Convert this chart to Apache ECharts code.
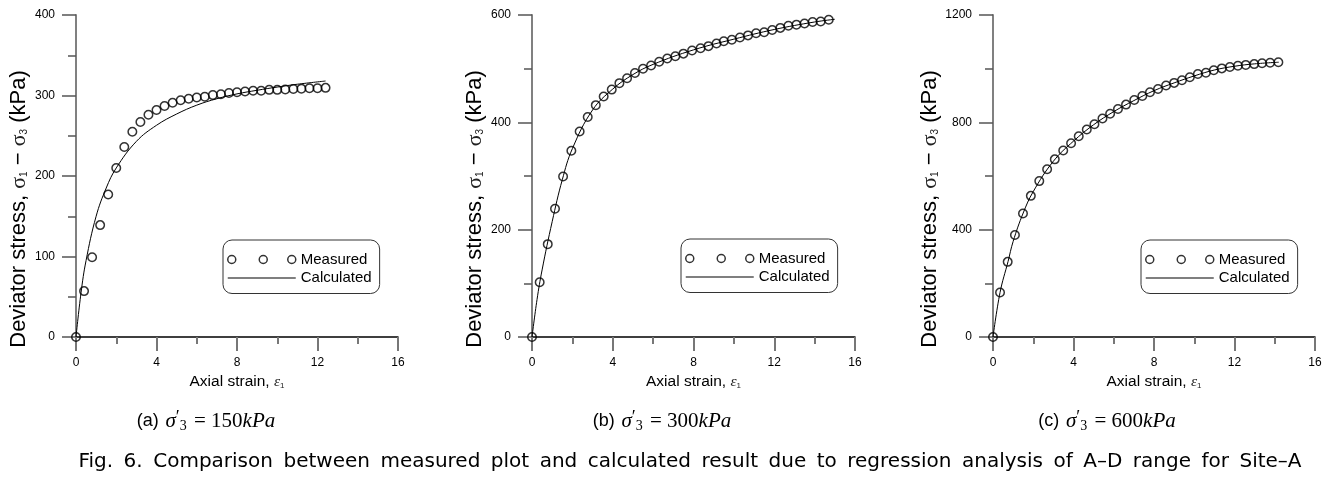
<!DOCTYPE html>
<html><head><meta charset="utf-8">
<script src="https://cdn.jsdelivr.net/npm/echarts@6/dist/echarts.min.js"></script>
<style>html,body{margin:0;padding:0;background:#fff}#c{width:1341px;height:484px}</style>
</head><body><div id="c"></div>
<script>
// ---------- data ----------
const strainA = [0,0.4,0.8,1.2,1.6,2.0,2.4,2.8,3.2,3.6,4.0,4.4,4.8,5.2,5.6,6.0,6.4,6.8,7.2,7.6,8.0,8.4,8.8,9.2,9.6,10.0,10.4,10.8,11.2,11.6,12.0,12.4];
const measuredA = [0,57,99,139,177,210,236,255,267,276,282,287,291,294,296,297.5,298.5,300.5,301.5,303,304,305,306,306,307,307,307.5,308,308.5,309,309,309.5];
const calcStrainA = [0,0.25,0.5,1,1.5,2,3,4,5,6,7,8,9,10,11,12.4];
const calculatedA = [0,55,95,150,185,210,243,263,277,288,296,302,306.5,310.5,314,318];

const strainB = [0,0.38,0.78,1.14,1.54,1.95,2.36,2.76,3.16,3.55,3.95,4.33,4.71,5.1,5.5,5.9,6.3,6.7,7.1,7.5,7.93,8.35,8.74,9.14,9.5,9.9,10.3,10.7,11.1,11.5,11.9,12.3,12.7,13.1,13.5,13.9,14.3,14.7];
const measuredB = [0,102,173,239,299,347,383,410,432,448,461,473,482,492,500,506,513,519,523,528,534,538,542,547,551,554,558,562,566,568,572,576,580,582,584,587,588,591];
const calcStrainB = [0,0.25,0.5,1,1.5,2,3,4,5,6,8,10,12,14,15];
const calculatedB = [0,70,125,215,293,351,423,462,489,508,535,555,573,587,592];

const strainC = [0,0.35,0.73,1.09,1.49,1.88,2.3,2.69,3.07,3.49,3.88,4.26,4.66,5.04,5.44,5.82,6.21,6.61,7.02,7.42,7.8,8.2,8.6,9.0,9.39,9.78,10.18,10.58,10.97,11.37,11.77,12.17,12.56,12.98,13.37,13.77,14.18];
const measuredC = [0,166,280,380,460,526,581,625,662,695,722,748,773,793,814,832,850,866,883,898,912,924,937,947,957,968,980,985,994,1001,1006,1011,1014,1017,1020,1022,1024];
const calcStrainC = [0,0.35,0.75,1,1.5,2,3,4,5,6,7,8,9,10,11,12,13,14.2];
const calculatedC = [0,166,282,356,462,542,655,730,791,840,881,918,947,973,995,1009,1018,1024];

const xTicks = {min:0, max:16, interval:4};
const yRanges = [{max:400, interval:100},{max:600, interval:200},{max:1200, interval:400}];
const captionLabels = ['(a)','(b)','(c)'];
const captionPressures = ['150','300','600'];
const seriesNames = ['Measured','Calculated'];
const figTitleWords = ['Fig.','6.','Comparison','between','measured','plot','and','calculated','result','due','to','regression','analysis','of','A\u2013D','range','for','Site\u2013A'];

// ---------- layout ----------
const panels = [
  {grid:{left:76, top:15, width:322, height:322}, legend:{left:223, top:240}, cap:{x:206}},
  {grid:{left:532, top:15, width:323, height:322}, legend:{left:681, top:239}, cap:{x:662}},
  {grid:{left:993, top:15, width:322, height:322}, legend:{left:1141, top:240}, cap:{x:1107}}
];
const measured = [[strainA,measuredA],[strainB,measuredB],[strainC,measuredC]];
const calculated = [[calcStrainA,calculatedA],[calcStrainB,calculatedB],[calcStrainC,calculatedC]];

const SANS = 'Liberation Sans, Arial, sans-serif';
const SERIF = 'Liberation Serif, Times New Roman, serif';
const richName = {
  t:{fontFamily:SANS, fontSize:22, color:'#000'},
  g:{fontFamily:SERIF, fontSize:22, color:'#222'},
  s:{fontFamily:SANS, fontSize:10, color:'#222', padding:[10,0,0,0]}
};
const richX = {
  t:{fontFamily:SANS, fontSize:15.5, color:'#000'},
  g:{fontFamily:SERIF, fontStyle:'italic', fontSize:15.5, color:'#222'},
  s:{fontFamily:SANS, fontSize:8, color:'#222', padding:[8,0,0,0]}
};

const option = {
  backgroundColor:'#fff',
  animation:false,
  grid: panels.map(p => Object.assign({containLabel:false}, p.grid)),
  xAxis: panels.map((p,i) => ({
    type:'value', gridIndex:i, min:xTicks.min, max:xTicks.max, interval:xTicks.interval,
    name:'{t|Axial strain, }{g|\u03B5}{s|1}', nameLocation:'middle', nameGap:35,
    nameTextStyle:{rich:richX},
    axisLine:{show:true, onZero:false, lineStyle:{color:'#000', width:1.5}},
    axisTick:{show:true, inside:false, length:14, lineStyle:{color:'#777', width:2}},
    minorTick:{show:true, splitNumber:2, length:7, lineStyle:{color:'#777', width:2}},
    axisLabel:{margin:20, color:'#000', fontSize:12, fontFamily:SANS},
    splitLine:{show:false}
  })),
  yAxis: panels.map((p,i) => ({
    type:'value', gridIndex:i, min:0, max:yRanges[i].max, interval:yRanges[i].interval,
    name:'{t|Deviator stress, }{g|\u03C3}{s|1}{t| \u2212 }{g|\u03C3}{s|3}{t| (kPa)}', nameLocation:'middle', nameGap:46,
    nameTextStyle:{rich:richName, padding:[0,66,0,0]},
    axisLine:{show:true, onZero:false, lineStyle:{color:'#808080', width:2}},
    axisTick:{show:true, inside:false, length:14, lineStyle:{color:'#555', width:1.5}},
    minorTick:{show:true, splitNumber:2, length:8, lineStyle:{color:'#555', width:1.5}},
    axisLabel:{margin:21, color:'#000', fontSize:12, fontFamily:SANS, formatter: v => String(v)},
    splitLine:{show:false}
  })),
  legend: panels.map((p,i) => ({
    left:p.legend.left, top:p.legend.top, orient:'vertical',
    itemWidth:68, itemHeight:8, itemGap:3.5,
    padding:[12,8,8,4], borderColor:'#333', borderWidth:1, borderRadius:9,
    textStyle:{fontFamily:SANS, fontSize:15, color:'#000', lineHeight:15},
    selectedMode:false,
    data:[
      {name:seriesNames[0], icon:'path://M0,4a4,4 0 1,0 8,0a4,4 0 1,0 -8,0Z M31.5,4a4,4 0 1,0 8,0a4,4 0 1,0 -8,0Z M60,4a4,4 0 1,0 8,0a4,4 0 1,0 -8,0Z',
       itemStyle:{color:'transparent', borderColor:'#000', borderWidth:1.5}},
      {name:seriesNames[1], itemStyle:{color:'rgba(0,0,0,0)', borderColor:'rgba(0,0,0,0)', borderWidth:0, opacity:0},
       lineStyle:{color:'#555', width:1.5}}
    ]
  })),
  series: [].concat(...panels.map((p,i) => ([
    {name:seriesNames[1], type:'line', xAxisIndex:i, yAxisIndex:i, smooth:0.4, symbol:'none', showSymbol:false,
     itemStyle:{color:'#000'}, lineStyle:{color:'#000', width:1}, z:2,
     data: calculated[i][0].map((x,k) => [x, calculated[i][1][k]])},
    {name:seriesNames[0], type:'scatter', xAxisIndex:i, yAxisIndex:i, symbol:'circle', symbolSize:8.5,
     itemStyle:{color:'transparent', borderColor:'#000', borderWidth:1.5}, z:3,
     data: measured[i][0].map((x,k) => [x, measured[i][1][k]])}
  ]))),
  graphic: panels.map((p,i) => ({
    type:'text', x:p.cap.x, y:421,
    style:{
      text:'{a|'+captionLabels[i]+'}  {m|\u03C3}{p|\u2032}{s|3}{n| = '+captionPressures[i]+'}{m|kPa}',
      align:'center', verticalAlign:'middle',
      rich:{
        a:{fontFamily:SANS, fontSize:18, fill:'#000'},
        m:{fontFamily:SERIF, fontStyle:'italic', fontSize:21, fill:'#000'},
        p:{fontFamily:SERIF, fontSize:18, fill:'#000', padding:[0,0,6,0]},
        s:{fontFamily:SERIF, fontSize:14, fill:'#000', padding:[11,2,0,0]},
        n:{fontFamily:SERIF, fontSize:21, fill:'#000'}
      }
    }
  })).concat([{
    type:'text', x:690, y:462,
    style:{text:figTitleWords.join('{sp| }'), align:'center', verticalAlign:'middle',
      fontFamily:'DejaVu Sans', fontSize:20, fill:'#000',
      rich:{sp:{fontFamily:'DejaVu Sans', fontSize:20, width:10.5}}}
  }])
};
const chart = echarts.init(document.getElementById('c'));
chart.setOption(option);
</script></body></html>
